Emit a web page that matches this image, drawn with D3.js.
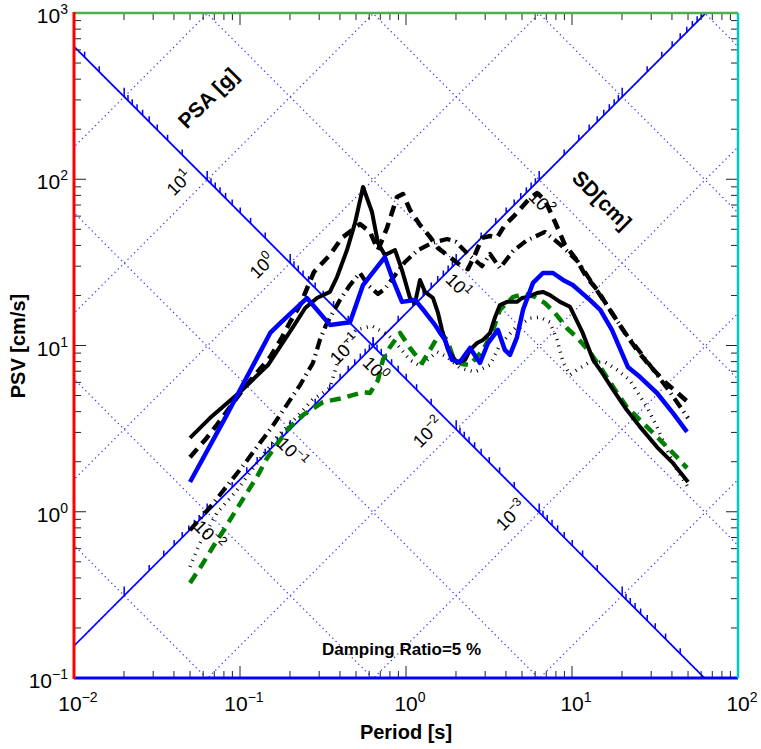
<!DOCTYPE html>
<html><head><meta charset="utf-8">
<script src="https://cdn.jsdelivr.net/npm/d3@7"></script>
<style>body{margin:0;background:#fff}</style>
</head><body>
<svg id="c" width="761" height="749"></svg>
<script>
// ---------------- data ----------------
const solidT = [0.05,0.0659,0.1,0.1475,0.174,0.2085,0.247,0.291,0.348,0.384,0.441,0.493,0.551,0.624,0.678,0.746,0.859,0.946,1.057,1.133,1.214,1.302,1.455,1.559,1.648,1.791,2.03,2.27,2.43,2.68,2.91,3.21,3.44,3.68,4.06,4.66,5.0,5.43,6.15,6.68,7.37,8.47,9.73,11.6,13.4,15.2,17.7,21.4,25.7,32.5,40.6,50];
const solidV = [2.78,3.66,5.25,7.63,9.8,12.9,16.8,19.3,21.0,25.8,37.5,54.6,89.8,63.5,41.4,35.0,37.5,28.4,19.3,18.0,24.8,21.0,19.3,15.7,12.4,9.4,7.85,8.2,9.4,10.35,10.8,11.9,14.8,17.5,18.3,18.3,19.3,19.6,20.7,21.0,20.1,18.3,17.1,11.9,8.2,6.84,5.40,4.09,3.24,2.45,1.96,1.51];

const blueT = [0.05,0.0813,0.110,0.152,0.174,0.253,0.348,0.460,0.551,0.669,0.746,0.835,0.946,1.133,1.302,1.495,1.718,1.89,2.11,2.43,2.79,3.12,3.58,3.94,4.23,4.66,5.07,5.82,6.68,7.68,8.83,10.1,12.8,14.8,17.4,21.7,25.7,32.5,40.6,49.3];
const blueV = [1.51,3.66,6.46,11.9,13.6,19.3,13.3,13.8,23.1,29.6,34.0,24.8,18.3,18.8,15.9,13.3,10.8,8.2,7.96,9.66,7.85,10.35,12.4,9.4,8.77,11.2,16.4,23.8,27.3,27.3,24.8,23.1,18.8,16.4,12.4,7.43,6.46,5.18,3.92,3.02];

const dashT = [0.05,0.0615,0.0726,0.107,0.152,0.179,0.20,0.230,0.279,0.348,0.411,0.528,0.607,0.678,0.768,0.883,0.959,1.057,1.214,1.395,1.56,1.84,2.11,2.36,2.60,2.87,3.21,3.53,3.94,4.42,5.0,5.58,6.15,6.87,7.90,9.08,10.7,12.1,14.2,16.9,20.3,24.6,29.5,36.3,50];
const dashV = [2.13,2.70,3.33,5.63,8.53,11.2,13.8,17.5,27.7,35.0,44.4,53.8,48.2,37.5,50.9,78.2,81.5,65.3,53.1,45.0,38.5,34.0,30.5,28.8,35.0,44.4,45.6,44.4,53.1,59.3,68.1,77.1,82.6,75.0,55.3,40.2,32.6,26.2,21.6,16.4,12.4,9.4,7.53,6.03,4.57];

const dashDotT = [0.05,0.0678,0.103,0.156,0.230,0.275,0.303,0.330,0.400,0.460,0.528,0.590,0.678,0.746,0.859,0.986,1.18,1.43,1.77,2.0,2.36,2.87,3.21,3.68,4.42,5.29,6.87,8.71,10.9,13.8,16.9,20.9,25.7,31.6,38.9,50];
const dashDotV = [0.776,1.10,1.86,3.24,5.78,7.85,10.8,13.3,18.8,23.1,27.3,23.1,20.4,21.9,26.5,31.8,37.5,41.4,43.7,42.0,35.5,30.0,35.5,29.2,37.0,42.6,48.2,39.6,31.8,22.2,16.4,11.9,9.14,6.93,5.25,3.66];

const dotT = [0.05,0.0574,0.0726,0.096,0.1265,0.167,0.22,0.272,0.348,0.411,0.500,0.624,0.779,0.921,1.057,1.214,1.54,1.77,2.11,2.60,3.21,3.68,4.54,5.58,6.41,7.37,8.13,8.83,9.73,10.7,12.8,15.8,18.7,22.3,28.3,32.5,37.4,42.9,50];
const dotV = [0.466,0.649,0.983,1.35,1.96,2.82,3.72,4.70,5.55,9.66,12.4,13.1,11.6,9.66,8.2,7.53,9.14,8.53,7.33,6.93,7.63,10.1,12.7,14.6,14.8,13.8,10.8,7.96,6.65,7.13,7.96,7.96,7.13,6.19,4.26,3.24,2.35,1.78,1.41];

const greenT = [0.05,0.059,0.0687,0.0813,0.0933,0.110,0.1265,0.1455,0.174,0.20,0.240,0.316,0.417,0.551,0.607,0.678,0.726,0.802,0.921,1.057,1.25,1.43,1.60,1.77,1.92,2.17,2.43,2.91,3.30,3.68,4.42,5.21,5.98,6.87,7.90,9.33,10.7,12.8,15.2,17.7,21.4,25.7,30.8,37.4,42.9,49.3];
const greenV = [0.373,0.479,0.614,0.798,1.0,1.30,1.62,2.10,2.70,3.24,3.82,4.57,4.83,5.25,5.18,6.19,8.2,9.8,11.9,9.66,7.85,9.8,11.9,10.8,8.53,7.74,7.63,9.4,11.9,16.4,19.6,20.4,19.6,18.0,15.7,12.7,11.2,9.14,7.13,5.63,4.26,3.56,2.98,2.45,2.13,1.83];

const xTickExp = [-2,-1,0,1,2];
const yTickExp = [-1,0,1,2,3];
const psaLabelExp = [1,0,-1,-2,-3];
const sdLabelExp = [-2,-1,0,1,2];
const gridSDExp = [-3,-2,-1,0,1,2,3,4];
const gridPSAExp = [-4,-3,-2,-1,0,1,2,3];
const psaTickExp = [-5,-4,-3,-2,-1,0,1,2];
const sdTickExp = [-3,-2,-1,0,1,2,3,4];
const sdAxisValue = 1;      // cm  (PSA axis runs along SD = 1 cm)
const psaAxisValue = 0.1;   // g   (SD axis runs along PSA = 0.1 g)
const gAcc = 981;           // cm/s^2

// ---------------- setup ----------------
const L=74,R=738,T0=13,B=678;
const svg=d3.select("#c");
const x=d3.scaleLog().domain([0.01,100]).range([L,R]);
const y=d3.scaleLog().domain([0.1,1000]).range([B,T0]);
const FONT="'Liberation Sans', Arial, Helvetica, sans-serif";
const TWO_PI=2*Math.PI;

svg.append("rect").attr("width",761).attr("height",749).attr("fill","#fff");
svg.append("defs").append("clipPath").attr("id","clip")
  .append("rect").attr("x",L).attr("y",T0).attr("width",R-L).attr("height",B-T0);
const plot=svg.append("g").attr("clip-path","url(#clip)");

const lineGen=d3.line().x(d=>x(d[0])).y(d=>y(d[1]));
const GRID="#3a3aff";

// dotted grid: constant SD and constant PSA
gridSDExp.forEach(n=>{
  const s=Math.pow(10,n);
  plot.append("path").attr("d",lineGen([[0.005,TWO_PI*s/0.005],[200,TWO_PI*s/200]]))
    .attr("fill","none").attr("stroke",GRID).attr("stroke-width",1.5)
    .attr("stroke-linecap","round").attr("stroke-dasharray","0,4.6");
});
gridPSAExp.forEach(n=>{
  const p=Math.pow(10,n)*gAcc;
  plot.append("path").attr("d",lineGen([[0.005,p*0.005/TWO_PI],[200,p*200/TWO_PI]]))
    .attr("fill","none").attr("stroke",GRID).attr("stroke-width",1.5)
    .attr("stroke-linecap","round").attr("stroke-dasharray","0,4.6");
});

// diagonal axes
plot.append("path").attr("d",lineGen([[0.005,TWO_PI*sdAxisValue/0.005],[200,TWO_PI*sdAxisValue/200]]))
  .attr("fill","none").attr("stroke","#0000ff").attr("stroke-width",1.7);
const aPSA=psaAxisValue*gAcc/TWO_PI;
plot.append("path").attr("d",lineGen([[0.005,aPSA*0.005],[200,aPSA*200]]))
  .attr("fill","none").attr("stroke","#0000ff").attr("stroke-width",1.7);

// ticks along PSA axis (SD=1 line): V = sqrt(PSA*g*SD)
psaTickExp.forEach(n=>{for(let k=1;k<=9;k++){
  const p=k*Math.pow(10,n);
  const Vv=Math.sqrt(p*gAcc*sdAxisValue);
  const Tt=TWO_PI*sdAxisValue/Vv;
  const px=x(Tt),py=y(Vv);
  if(px<L||px>R||py<T0||py>B) continue;
  plot.append("line").attr("x1",px).attr("x2",px).attr("y1",py).attr("y2",py-(k===1?9:5.5))
    .attr("stroke","#0000ff").attr("stroke-width",1.5);
}});
// ticks along SD axis (PSA=0.1 g line)
sdTickExp.forEach(n=>{for(let k=1;k<=9;k++){
  const s=k*Math.pow(10,n);
  const Tt=Math.sqrt(TWO_PI*s/aPSA);
  const Vv=aPSA*Tt;
  const px=x(Tt),py=y(Vv);
  if(px<L||px>R||py<T0||py>B) continue;
  plot.append("line").attr("x1",px).attr("x2",px).attr("y1",py).attr("y2",py-(k===1?9:5.5))
    .attr("stroke","#0000ff").attr("stroke-width",1.5);
}});

function powText(g,exp,fs,sfs,anchor){
  const t=g.append("text").attr("font-family",FONT).attr("font-size",fs)
    .attr("text-anchor",anchor).attr("fill","#000");
  t.append("tspan").text("10");
  t.append("tspan").attr("font-size",sfs).attr("dy",-fs*0.42).text(exp<0?"\u2212"+(-exp):String(exp));
  return t;
}

// diagonal labels
psaLabelExp.forEach(n=>{
  const p=Math.pow(10,n);
  const Vv=Math.sqrt(p*gAcc*sdAxisValue), Tt=TWO_PI*sdAxisValue/Vv;
  const cx=x(Tt)-28, cy=y(Vv)+3;
  const g=svg.append("g").attr("transform",`translate(${cx},${cy}) rotate(-45)`);
  powText(g,n,18,12.5,"middle").attr("y",6);
});
sdLabelExp.forEach(n=>{
  const s=Math.pow(10,n);
  const Tt=Math.sqrt(TWO_PI*s/aPSA), Vv=aPSA*Tt;
  const cx=x(Tt)+2, cy=y(Vv)+23;
  const g=svg.append("g").attr("transform",`translate(${cx},${cy}) rotate(45)`);
  powText(g,n,18,12.5,"middle").attr("y",6);
});
svg.append("text").attr("transform","translate(208,98) rotate(-45)")
  .attr("font-family",FONT).attr("font-weight","bold").attr("font-size",21)
  .attr("text-anchor","middle").attr("dy","0.35em").text("PSA [g]");
svg.append("text").attr("transform","translate(602,200) rotate(45)")
  .attr("font-family",FONT).attr("font-weight","bold").attr("font-size",21)
  .attr("text-anchor","middle").attr("dy","0.35em").text("SD[cm]");

// curves
function curve(Tarr,Varr,color,w,dash){
  plot.append("path").attr("d",lineGen(Tarr.map((t,i)=>[t,Varr[i]])))
    .attr("fill","none").attr("stroke",color).attr("stroke-width",w)
    .attr("stroke-dasharray",dash||null).attr("stroke-linejoin","round");
}
curve(dotT,dotV,"#000",3.5,"1,5.5");
curve(dashDotT,dashDotV,"#000",4.2,"11,5,1.2,5");
curve(dashT,dashV,"#000",4.5,"11,7");
curve(greenT,greenV,"#008000",4.5,"11,7");
curve(solidT,solidV,"#000",4,null);
curve(blueT,blueV,"#0000ff",4.5,null);

// damping text
svg.append("text").attr("x",322).attr("y",655).attr("font-family",FONT)
  .attr("font-weight","bold").attr("font-size",17).text("Damping Ratio=5 %");

// frame ticks
const tickCol="#222";
const minorX=[],majorX=[];
for(let n=-2;n<=2;n++){majorX.push(Math.pow(10,n)); if(n<2) for(let k=2;k<=9;k++) minorX.push(k*Math.pow(10,n));}
const minorY=[],majorY=[];
for(let n=-1;n<=3;n++){majorY.push(Math.pow(10,n)); if(n<3) for(let k=2;k<=9;k++) minorY.push(k*Math.pow(10,n));}
majorX.forEach(v=>{svg.append("line").attr("x1",x(v)).attr("x2",x(v)).attr("y1",B).attr("y2",B-12).attr("stroke",tickCol);
  svg.append("line").attr("x1",x(v)).attr("x2",x(v)).attr("y1",T0).attr("y2",T0+12).attr("stroke",tickCol);});
minorX.forEach(v=>{svg.append("line").attr("x1",x(v)).attr("x2",x(v)).attr("y1",B).attr("y2",B-7).attr("stroke",tickCol);
  svg.append("line").attr("x1",x(v)).attr("x2",x(v)).attr("y1",T0).attr("y2",T0+7).attr("stroke",tickCol);});
majorY.forEach(v=>{svg.append("line").attr("y1",y(v)).attr("y2",y(v)).attr("x1",L).attr("x2",L+12).attr("stroke",tickCol);
  svg.append("line").attr("y1",y(v)).attr("y2",y(v)).attr("x1",R).attr("x2",R-12).attr("stroke",tickCol);});
minorY.forEach(v=>{svg.append("line").attr("y1",y(v)).attr("y2",y(v)).attr("x1",L).attr("x2",L+7).attr("stroke",tickCol);
  svg.append("line").attr("y1",y(v)).attr("y2",y(v)).attr("x1",R).attr("x2",R-7).attr("stroke",tickCol);});

// colored frame
svg.append("line").attr("x1",L).attr("x2",R).attr("y1",T0).attr("y2",T0).attr("stroke","#4caf50").attr("stroke-width",2.5);
svg.append("line").attr("x1",L).attr("x2",R).attr("y1",B).attr("y2",B).attr("stroke","#0000ff").attr("stroke-width",3);
svg.append("line").attr("x1",R).attr("x2",R).attr("y1",T0).attr("y2",B).attr("stroke","#00c8c8").attr("stroke-width",2.5);
svg.append("line").attr("x1",L).attr("x2",L).attr("y1",T0-1).attr("y2",B+1).attr("stroke","#ff0000").attr("stroke-width",3);

// axis tick labels
xTickExp.forEach(n=>{ powText(svg,n,21,14,"middle").attr("x",x(Math.pow(10,n))+4).attr("y",711); });
yTickExp.forEach(n=>{ powText(svg,n,21,14,"end").attr("x",68).attr("y",y(Math.pow(10,n))+10); });

svg.append("text").attr("x",406).attr("y",739).attr("text-anchor","middle")
  .attr("font-family",FONT).attr("font-weight","bold").attr("font-size",20).text("Period [s]");
svg.append("text").attr("transform","translate(25,346) rotate(-90)").attr("text-anchor","middle")
  .attr("font-family",FONT).attr("font-weight","bold").attr("font-size",20).text("PSV [cm/s]");
</script>
</body></html>
